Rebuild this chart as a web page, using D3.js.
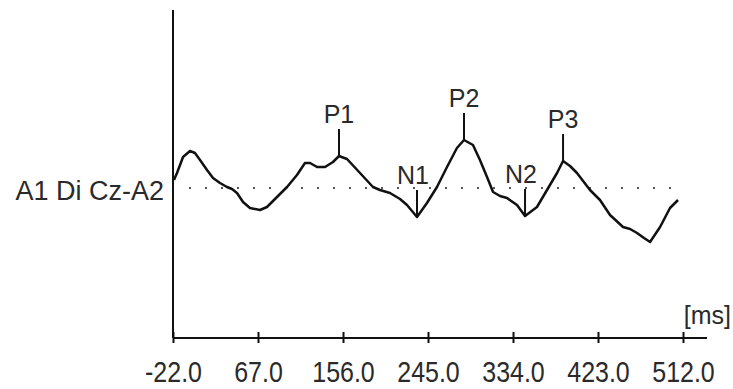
<!DOCTYPE html>
<html>
<head>
<meta charset="utf-8">
<script src="https://cdn.jsdelivr.net/npm/d3@7"></script>
<style>
  html, body { margin: 0; padding: 0; background: #fff; }
  text { font-family: "Liberation Sans", Arial, sans-serif; fill: #2a2a2a; }
</style>
</head>
<body>
<div id="chart"></div>
<script>
// Evoked response trace (latency in ms, amplitude in µV)
const latency = [-21.0, -17.8, -11.5, -4.2, 1.0, 6.3, 13.6, 19.9, 27.2, 34.5, 39.8, 45.0, 51.3, 58.6,
  69.1, 76.4, 86.9, 97.4, 107.8, 116.2, 121.5, 128.8, 137.2, 145.5, 151.8, 160.2, 173.8, 187.4,
  194.7, 205.2, 215.7, 223.0, 233.5, 243.9, 254.4, 264.9, 275.3, 282.7, 292.1, 299.4, 306.8,
  313.1, 320.4, 327.7, 338.2, 346.6, 359.1, 369.6, 380.1, 386.4, 393.7, 401.0, 414.6, 425.1,
  435.6, 449.2, 456.6, 463.9, 471.2, 477.5, 488.0, 498.4, 506.8];
const amplitude = [0.8, 1.5, 3.1, 3.7, 3.5, 2.8, 1.8, 1.0, 0.5, 0.1, -0.1, -0.5, -1.4, -2.0,
  -2.2, -1.9, -0.9, 0.1, 1.3, 2.5, 2.5, 2.1, 2.1, 2.6, 3.2, 2.9, 1.5, 0.1,
  -0.2, -0.5, -1.1, -1.7, -2.9, -1.5, 0.1, 2.1, 4.0, 4.8, 4.3, 2.8, 1.1,
  -0.4, -0.8, -1.0, -1.7, -2.8, -1.9, -0.2, 1.5, 2.7, 2.2, 1.5, -0.2, -1.2,
  -2.7, -3.9, -4.1, -4.5, -5.0, -5.4, -3.9, -2.0, -1.2];

// Marked components
const peakNames = ['P1', 'N1', 'P2', 'N2', 'P3'];
const peakLatency = [151.8, 233.5, 282.7, 346.6, 386.4];

const tickValues = [-22.0, 67.0, 156.0, 245.0, 334.0, 423.0, 512.0];
const channelLabel = 'A1 Di Cz-A2';
const unitLabel = '[ms]';

const width = 733, height = 389;

const svg = d3.select('#chart')
    .append('svg')
    .attr('width', width)
    .attr('height', height);

const x = d3.scaleLinear().domain([-22, 512]).range([173, 683]);
const y = d3.scaleLinear().domain([-15, 17.8]).range([338, 10]);

// Zero line (dotted)
svg.append('line')
    .attr('x1', 189).attr('x2', 684)
    .attr('y1', y(0)).attr('y2', y(0))
    .attr('stroke', '#555')
    .attr('stroke-width', 2)
    .attr('stroke-dasharray', '2,14');

// Vertical axis
svg.append('line')
    .attr('x1', x(-22)).attr('x2', x(-22))
    .attr('y1', 10).attr('y2', y(-15))
    .attr('stroke', '#111')
    .attr('stroke-width', 2);

// Horizontal axis line, runs a bit past the last tick
svg.append('line')
    .attr('x1', x(-22)).attr('x2', 707)
    .attr('y1', y(-15)).attr('y2', y(-15))
    .attr('stroke', '#111')
    .attr('stroke-width', 2);

const xAxis = svg.append('g')
    .attr('transform', 'translate(0,' + y(-15) + ')')
    .call(d3.axisBottom(x).tickValues(tickValues).tickFormat(function(d) { return d.toFixed(1); }));

xAxis.select('.domain').remove();
xAxis.selectAll('.tick line')
    .attr('y1', -6)
    .attr('y2', 5)
    .attr('stroke', '#111')
    .attr('stroke-width', 2);
// labels in the original are a little taller than wide
xAxis.selectAll('.tick text')
    .attr('y', 44 / 1.18)
    .attr('dy', 0)
    .attr('transform', 'scale(1,1.18)')
    .attr('font-size', '25px')
    .attr('fill', '#2a2a2a')
    .style('font-family', '"Liberation Sans", Arial, sans-serif');

// Unit label
svg.append('text')
    .attr('x', 731)
    .attr('y', 324)
    .attr('text-anchor', 'end')
    .attr('font-size', '25px')
    .text(unitLabel);

// Channel label
svg.append('text')
    .attr('x', 164)
    .attr('y', 200)
    .attr('text-anchor', 'end')
    .attr('font-size', '27px')
    .text(channelLabel);

// Trace
const trace = latency.map(function(t, i) { return { t: t, v: amplitude[i] }; });
const line = d3.line()
    .x(function(d) { return x(d.t); })
    .y(function(d) { return y(d.v); });

svg.append('path')
    .datum(trace)
    .attr('d', line)
    .attr('fill', 'none')
    .attr('stroke', '#111')
    .attr('stroke-width', 2.5)
    .attr('stroke-linejoin', 'round');

// Component markers
peakNames.forEach(function(name, i) {
    const pt = trace.reduce(function(best, d) {
        return Math.abs(d.t - peakLatency[i]) < Math.abs(best.t - peakLatency[i]) ? d : best;
    });
    const px = x(pt.t);
    const py = y(pt.v);
    const top = py - 27;

    svg.append('line')
        .attr('x1', px).attr('x2', px)
        .attr('y1', py).attr('y2', top)
        .attr('stroke', '#111')
        .attr('stroke-width', 2);

    svg.append('text')
        .attr('x', name[0] === 'N' ? px - 4 : px)
        .attr('y', top - 6)
        .attr('text-anchor', 'middle')
        .attr('font-size', '25px')
        .text(name);
});
</script>
</body>
</html>
